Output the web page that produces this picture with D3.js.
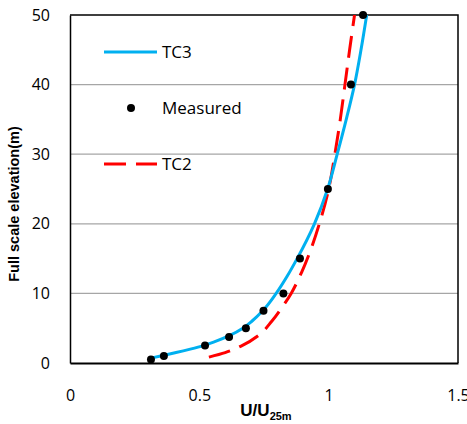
<!DOCTYPE html>
<html>
<head>
<meta charset="utf-8">
<script src="https://cdn.jsdelivr.net/npm/d3@7"></script>
<style>
  body { margin: 0; background: #fff; }
  svg { display: block; font-family: "Open Sans", sans-serif; }
</style>
</head>
<body>
<div id="vis-container"></div>
<script>
// ---- data ----
const xTicks = [0, 0.5, 1, 1.5]
const yTicks = [0, 10, 20, 30, 40, 50]

// measured profile
const measZ = [0.5, 1, 2.5, 3.75, 5, 7.5, 10, 15, 25, 40, 50]
const measU = [0.313, 0.363, 0.522, 0.615, 0.68, 0.748, 0.825, 0.889, 0.997, 1.086, 1.133]

// TC3 curve
const tc3Z = [0.7, 1, 1.5, 2, 2.5, 3, 4, 5, 6, 7.5, 10, 12.5, 15, 20, 25, 30, 35, 40, 45, 50]
const tc3U = [0.313, 0.35, 0.41, 0.465, 0.515, 0.555, 0.62, 0.668, 0.703, 0.745, 0.797, 0.84, 0.878, 0.945, 0.996, 1.033, 1.068, 1.1, 1.125, 1.147]

// TC2 curve
const tc2Z = [0.85, 1.5, 2.5, 4, 6, 8, 10, 13, 16, 20, 25, 30, 35, 40, 45, 50]
const tc2U = [0.537, 0.6, 0.665, 0.73, 0.78, 0.82, 0.855, 0.895, 0.928, 0.964, 1.0, 1.024, 1.045, 1.063, 1.081, 1.1]

const svgWidth = 467
const svgHeight = 424
const margin = { left: 70, right: 9, top: 15, bottom: 61 }
const width = svgWidth - margin.left - margin.right
const height = svgHeight - margin.top - margin.bottom

const svg = d3.select('#vis-container')
    .append('svg')
    .attr('width', svgWidth)
    .attr('height', svgHeight)

const g = svg.append('g')
    .attr('transform', `translate(${margin.left},${margin.top})`)

// scales
const xScale = d3.scaleLinear().domain([0, 1.5]).range([0, width])
const yScale = d3.scaleLinear().domain([0, 50]).range([height, 0])

// gridlines
g.selectAll('.grid')
    .data(yTicks.filter(d => d > 0 && d < 50))
    .join('line')
    .attr('x1', 0).attr('x2', width)
    .attr('y1', d => yScale(d)).attr('y2', d => yScale(d))
    .attr('stroke', '#a6a6a6')
    .attr('stroke-width', 1.3)

// plot border (top + right)
g.append('path')
    .attr('d', `M0,${yScale(50)}H${width}V${height}`)
    .attr('fill', 'none')
    .attr('stroke', '#000')
    .attr('stroke-width', 1.5)

// axes
const yAxis = g.append('g')
    .call(d3.axisLeft(yScale).tickValues(yTicks).tickSize(0).tickPadding(20))
const xAxis = g.append('g')
    .attr('transform', `translate(0,${height})`)
    .call(d3.axisBottom(xScale).tickValues(xTicks).tickSize(0).tickPadding(27)
        .tickFormat(d => d))

yAxis.select('.domain').attr('stroke', '#000').attr('stroke-width', 1.5)
xAxis.select('.domain').attr('stroke', '#000').attr('stroke-width', 2)
svg.selectAll('.tick text')
    .attr('font-family', '"Open Sans", sans-serif')
    .attr('font-size', 16)
    .attr('fill', '#000')

// curves
g.append('clipPath').attr('id', 'clip')
    .append('rect').attr('width', width).attr('height', height)

const line = d3.line()
    .x(d => xScale(d[0]))
    .y(d => yScale(d[1]))
    .curve(d3.curveMonotoneY)

g.append('path')
    .datum(d3.zip(tc2U, tc2Z))
    .attr('clip-path', 'url(#clip)')
    .attr('d', line)
    .attr('fill', 'none')
    .attr('stroke', '#ff0000')
    .attr('stroke-width', 3)
    .attr('stroke-dasharray', '22,10')

g.append('path')
    .datum(d3.zip(tc3U, tc3Z))
    .attr('clip-path', 'url(#clip)')
    .attr('d', line)
    .attr('fill', 'none')
    .attr('stroke', '#00b0f0')
    .attr('stroke-width', 3)

g.selectAll('.meas')
    .data(d3.zip(measU, measZ))
    .join('circle')
    .attr('cx', d => xScale(d[0]))
    .attr('cy', d => yScale(d[1]))
    .attr('r', 4)
    .attr('fill', '#000')

// legend
const legend = svg.append('g')
legend.append('line')
    .attr('x1', 104).attr('x2', 157).attr('y1', 52).attr('y2', 52)
    .attr('stroke', '#00b0f0').attr('stroke-width', 3)
legend.append('circle')
    .attr('cx', 131).attr('cy', 108).attr('r', 4).attr('fill', '#000')
legend.append('line')
    .attr('x1', 104).attr('x2', 157).attr('y1', 164).attr('y2', 164)
    .attr('stroke', '#ff0000').attr('stroke-width', 3)
    .attr('stroke-dasharray', '22,10')
legend.selectAll('.legtext')
    .data([['TC3', 52], ['Measured', 108], ['TC2', 164]])
    .join('text')
    .attr('x', 162)
    .attr('y', d => d[1])
    .attr('dy', '0.35em')
    .attr('font-size', 17)
    .text(d => d[0])

// axis titles
svg.append('text')
    .attr('transform', 'translate(19,204) rotate(-90)')
    .attr('text-anchor', 'middle')
    .attr('font-family', '"Liberation Sans", Arial, sans-serif')
    .attr('font-weight', 'bold')
    .attr('font-size', 14.5)
    .text('Full scale elevation(m)')

const xt = svg.append('text')
    .attr('x', 266)
    .attr('y', 416)
    .attr('text-anchor', 'middle')
    .attr('font-family', '"Liberation Sans", Arial, sans-serif')
    .attr('font-weight', 'bold')
    .attr('font-size', 17)
xt.append('tspan').text('U/U')
xt.append('tspan').attr('font-size', 11).attr('dy', 4).text('25m')
</script>
</body>
</html>
